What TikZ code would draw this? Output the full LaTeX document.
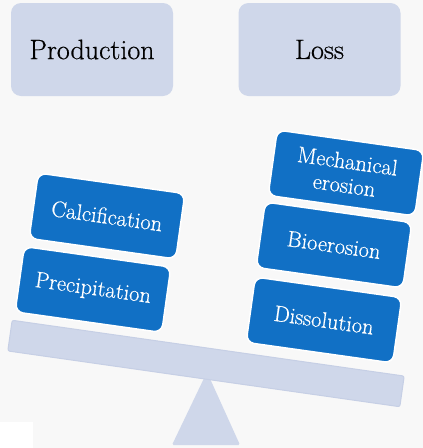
\documentclass[tikz,border=0pt]{standalone}
\usepackage{fontspec}
\setmainfont{Latin Modern Roman}[FakeBold=0.5]
\begin{document}
\begin{tikzpicture}[x=1pt,y=-1pt,
  headbox/.style={fill=headfill,rounded corners=10pt,minimum width=162pt,minimum height=93pt,
    font=\fontsize{28}{30}\selectfont,text=black,inner sep=0pt},
  itembox/.style={fill=itemblue,draw=white,line width=1.5pt,rounded corners=8pt,
    minimum width=148pt,minimum height=66pt,rotate=-8,text=white,align=center,
    font=\fontsize{22.5}{24}\selectfont,inner sep=0pt},
  beamstyle/.style={fill=headfill,draw=beamedge,line width=1pt,rounded corners=2pt,
    minimum width=396pt,minimum height=31pt,rotate=-8.1,inner sep=0pt}]
\definecolor{headfill}{RGB}{207,215,234}
\definecolor{beamedge}{RGB}{198,207,229}
\definecolor{itemblue}{RGB}{17,112,197}
\definecolor{bgcol}{RGB}{248,248,248}
\useasboundingbox (0,0) rectangle (423,448);
\fill[bgcol] (0,0) rectangle (423,448);
\fill[white] (0,422) rectangle (33,448);
% fulcrum
\fill[headfill,rounded corners=1.5pt] (207,372) -- (240,445) -- (172,445) -- cycle;
% beam
\node[beamstyle] (beam) at (206,363.5) {};
% header boxes
\node[headbox] (prod) at (92,49.5) {Production};
\node[headbox] (loss) at (319.5,49.5) {Loss};
% production items
\node[itembox] (calc) at (107,216) {Calcification};
\node[itembox] (prec) at (93,289.5) {Precipitation};
% loss items
\node[itembox] (mech) at (346,173) {Mechanical\\erosion};
\node[itembox] (bio) at (334,245) {Bioerosion};
\node[itembox] (diss) at (324,320) {Dissolution};
\end{tikzpicture}
\end{document}
